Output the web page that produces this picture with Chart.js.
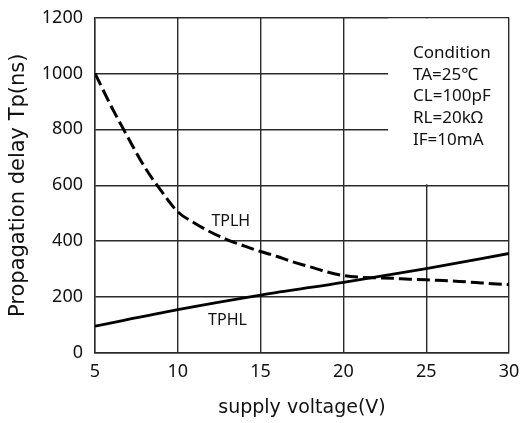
<!DOCTYPE html>
<html>
<head>
<meta charset="utf-8">
<script src="https://cdn.jsdelivr.net/npm/chart.js@4.4.0/dist/chart.umd.min.js"></script>
<style>
  html, body { margin: 0; padding: 0; background: #fff; }
  #wrap { width: 520px; height: 423px; position: relative; }
</style>
</head>
<body>
<div id="wrap"><canvas id="c" width="520" height="423"></canvas></div>
<script>
// ---- data ----
const tplhVoltage = [5, 6, 7, 8, 9, 10, 11, 12, 13, 14, 15, 16, 17, 18, 19, 20, 21, 22, 23, 24, 25, 26, 27, 28, 29, 30];
const tplhDelay   = [1000, 880, 770, 665, 580, 505, 465, 432, 405, 383, 363, 345, 325, 308, 290, 277, 271, 269, 267, 264, 262, 259, 256, 252, 248, 245];
const tphlVoltage = [5, 10, 15, 20, 25, 30];
const tphlDelay   = [96, 155, 207, 253, 302, 356];
const xTicks = [5, 10, 15, 20, 25, 30];
const yTicks = [0, 200, 400, 600, 800, 1000, 1200];
const conditionLines = ['Condition', 'TA=25\u2103', 'CL=100pF', 'RL=20k\u03A9', 'IF=10mA'];
const seriesNames = ['TPLH', 'TPHL'];

const FONT = '"Noto Sans", "Open Sans", sans-serif';
const TFONT = '"DejaVu Sans", sans-serif';

const toPts = (xs, ys) => xs.map((x, i) => ({ x: x, y: ys[i] }));

const overlay = {
  id: 'overlay',
  beforeDatasetsDraw(chart) {
    const { ctx, chartArea, scales } = chart;
    const x = scales.x, y = scales.y;
    // blank box for the condition text (grid hidden there)
    const x0 = x.getPixelForValue(22.7);
    const x1 = chartArea.right - 1;
    const y0 = chartArea.top + 1;
    const y1 = y.getPixelForValue(600) - 1;
    ctx.save();
    ctx.fillStyle = '#fff';
    ctx.fillRect(x0, y0, x1 - x0, y1 - y0);
    ctx.restore();
  },
  afterDatasetsDraw(chart) {
    const { ctx, scales } = chart;
    const x = scales.x, y = scales.y;
    ctx.save();
    ctx.fillStyle = '#111';
    ctx.textBaseline = 'middle';
    ctx.textAlign = 'left';
    ctx.font = '17px ' + FONT;
    const lx = 413, ly0 = 53, dy = 21.8;
    conditionLines.forEach((t, i) => ctx.fillText(t, lx, ly0 + i * dy));
    ctx.font = '16px ' + FONT;
    ctx.textAlign = 'center';
    ctx.fillText(seriesNames[0], x.getPixelForValue(13.2), y.getPixelForValue(470));
    ctx.fillText(seriesNames[1], x.getPixelForValue(13.0), y.getPixelForValue(118));
    ctx.restore();
  }
};

new Chart(document.getElementById('c'), {
  type: 'scatter',
  data: {
    datasets: [
      {
        label: seriesNames[0],
        data: toPts(tplhVoltage, tplhDelay),
        showLine: true,
        borderColor: '#000',
        borderWidth: 3,
        borderDash: [13, 5],
        pointRadius: 0,
        cubicInterpolationMode: 'monotone',
        fill: false
      },
      {
        label: seriesNames[1],
        data: toPts(tphlVoltage, tphlDelay),
        showLine: true,
        borderColor: '#000',
        borderWidth: 2.8,
        pointRadius: 0,
        cubicInterpolationMode: 'monotone',
        fill: false
      }
    ]
  },
  options: {
    responsive: false,
    animation: false,
    devicePixelRatio: 1,
    layout: { padding: { left: 0, right: 11, top: 17.5, bottom: 0 } },
    plugins: { legend: { display: false }, tooltip: { enabled: false } },
    scales: {
      x: {
        type: 'linear',
        min: 5, max: 30,
        afterBuildTicks: (s) => { s.ticks = xTicks.map(v => ({ value: v })); },
        afterFit: (s) => { s.height = 70; s.paddingLeft = 0; s.paddingRight = 0; },
        grid: { color: '#2a2a2a', lineWidth: 1.4, drawTicks: false },
        border: { color: '#2a2a2a', width: 1.4 },
        ticks: { color: '#111', font: { family: FONT, size: 18 }, padding: 8, maxRotation: 0, callback: (v) => String(v) },
        title: { display: true, text: 'supply voltage(V)', color: '#111', font: { family: TFONT, size: 19 }, padding: { top: 0, bottom: 4 } }
      },
      y: {
        type: 'linear',
        min: 0, max: 1200,
        afterBuildTicks: (s) => { s.ticks = yTicks.map(v => ({ value: v })); },
        afterFit: (s) => { s.width = 95; s.paddingTop = 0; s.paddingBottom = 0; },
        grid: { color: '#2a2a2a', lineWidth: 1.4, drawTicks: false },
        border: { color: '#2a2a2a', width: 1.4 },
        ticks: { color: '#111', font: { family: FONT, size: 18 }, padding: 12, callback: (v) => String(v) },
        title: { display: true, text: 'Propagation delay Tp(ns)', color: '#111', font: { family: TFONT, size: 21 }, padding: { top: 6, bottom: 0 } }
      }
    }
  },
  plugins: [overlay]
});
</script>
</body>
</html>
